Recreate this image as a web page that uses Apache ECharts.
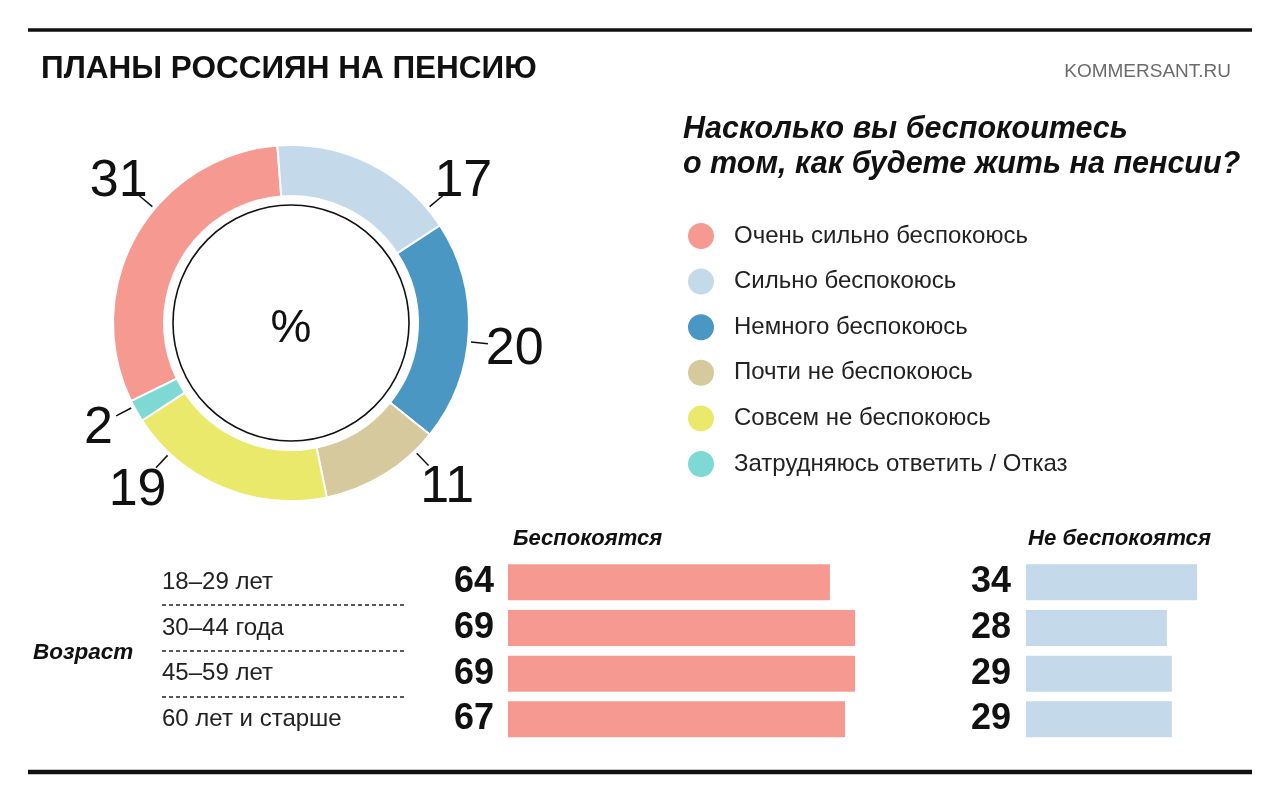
<!DOCTYPE html>
<html><head><meta charset="utf-8">
<script src="https://cdn.jsdelivr.net/npm/echarts@6/dist/echarts.min.js"></script>
<style>html,body{margin:0;padding:0;background:#fff}#c{width:1280px;height:801px}</style>
</head><body><div id="c"></div>
<script>
// ---- data ----
const attitudeNames = ['Очень сильно беспокоюсь','Сильно беспокоюсь','Немного беспокоюсь','Почти не беспокоюсь','Совсем не беспокоюсь','Затрудняюсь ответить / Отказ'];
const attitudeValues = [31, 17, 20, 11, 19, 2];
const ageGroups = ['18–29 лет','30–44 года','45–59 лет','60 лет и старше'];
const worried = [64, 69, 69, 67];
const notWorried = [34, 28, 29, 29];

// ---- style ----
const sliceColors = ['#F69A91','#C4D9EA','#4A97C4','#D6C99E','#EAE96B','#7ED8D4'];
const labelAngles = [140, 40, -6, -46, -133, -152]; // label direction in degrees (style)
const pieCenter = [291, 323];
const narrow = "'Liberation Sans Narrow', 'Liberation Sans', sans-serif";
const sans = "'Liberation Sans', Arial, sans-serif";

const chart = echarts.init(document.getElementById('c'));
const rowTop = 559.5, rowH = 182.7;
const italicBold = (size) => ({fontFamily: narrow, fontWeight: 'bold', fontStyle: 'italic', fontSize: size, color: '#111'});

chart.setOption({
  backgroundColor: '#fff',
  animation: false,
  color: sliceColors,
  title: [
    {text: 'ПЛАНЫ РОССИЯН НА ПЕНСИЮ', left: 36, top: 48, textStyle: {fontFamily: sans, fontWeight: 'bold', fontSize: 31.5, color: '#111'}},
    {text: 'KOMMERSANT.RU', right: 44, top: 57, textStyle: {fontFamily: sans, fontWeight: 'normal', fontSize: 19, color: '#6b6b6b'}},
    {text: 'Насколько вы беспокоитесь\nо том, как будете жить на пенсии?', left: 678, top: 107,
      textStyle: Object.assign(italicBold(30.5), {lineHeight: 35})},
    {text: 'Беспокоятся', left: 508, top: 523, textStyle: italicBold(22)},
    {text: 'Не беспокоятся', left: 1023, top: 523, textStyle: italicBold(22.2)},
    {text: 'Возраст', left: 28, top: 636, textStyle: italicBold(22.5)}
  ],
  legend: {
    orient: 'vertical', left: 686, top: 221, padding: 0, icon: 'circle', itemWidth: 28, itemHeight: 28, itemGap: 15.6,
    selectedMode: false, data: attitudeNames,
    textStyle: {fontFamily: narrow, fontSize: 24, color: '#222', padding: [0, 0, 0, 14]}
  },
  graphic: [
    {type: 'line', shape: {x1: 28, y1: 30, x2: 1252, y2: 30}, style: {stroke: '#111', lineWidth: 3.5}},
    {type: 'line', shape: {x1: 28, y1: 772, x2: 1252, y2: 772}, style: {stroke: '#111', lineWidth: 4.5}},
    {type: 'circle', shape: {cx: pieCenter[0], cy: pieCenter[1], r: 118}, style: {fill: 'none', stroke: '#111', lineWidth: 1.6}},
    {type: 'text', x: pieCenter[0], y: pieCenter[1] + 6, style: {text: '%', fontFamily: narrow, fontSize: 46, fill: '#111', align: 'center', verticalAlign: 'middle'}}
  ],
  grid: [
    {left: 508, top: rowTop, width: 503, height: rowH},
    {left: 1026, top: rowTop, width: 251.5, height: rowH},
    {left: 162, top: rowTop, width: 245, height: rowH}
  ],
  xAxis: [
    {gridIndex: 0, type: 'value', min: 0, max: 100, show: false},
    {gridIndex: 1, type: 'value', min: 0, max: 50, show: false},
    {gridIndex: 2, type: 'value', min: 0, max: 1, show: false}
  ],
  yAxis: [
    {gridIndex: 0, type: 'category', data: ageGroups, inverse: true,
      axisLine: {show: false}, axisTick: {show: false}, splitLine: {show: false},
      axisLabel: {align: 'left', margin: 346, padding: [9, 0, 0, 0], fontFamily: narrow, fontSize: 24, color: '#222'}},
    {gridIndex: 1, type: 'category', data: ageGroups, inverse: true, show: false},
    {gridIndex: 2, type: 'value', min: 0, max: 4, interval: 1, inverse: true,
      axisLine: {show: false}, axisTick: {show: false}, axisLabel: {show: false},
      splitLine: {show: true, showMinLine: false, showMaxLine: false, lineStyle: {color: '#222', width: 1.5, type: [4, 3]}}}
  ],
  series: [
    {
      type: 'pie', center: pieCenter, radius: [127, 178], startAngle: 206, clockwise: true,
      avoidLabelOverlap: false, silent: true,
      itemStyle: {borderColor: '#fff', borderWidth: 2},
      label: {show: true, formatter: '{c}', fontFamily: narrow, fontSize: 52, color: '#111'},
      labelLine: {show: true, length: 12, length2: 0, lineStyle: {color: '#111', width: 1.5}},
      labelLayout: function (p) {
        const a = labelAngles[p.dataIndex] * Math.PI / 180;
        const cx = pieCenter[0], cy = pieCenter[1];
        const pt = r => [cx + r * Math.cos(a), cy - r * Math.sin(a)];
        const lp = pt(p.dataIndex === 5 ? 218 : 225);
        const s = pt(181), e = pt(198);
        return {x: lp[0], y: lp[1] + 3, align: 'center', verticalAlign: 'middle', labelLinePoints: [s, e, e]};
      },
      data: attitudeNames.map((n, i) => ({name: n, value: attitudeValues[i]}))
    },
    {
      type: 'bar', xAxisIndex: 0, yAxisIndex: 0, data: worried, barWidth: 36, silent: true,
      itemStyle: {color: sliceColors[0]},
      label: {show: true, position: 'left', distance: 14, fontFamily: sans, fontWeight: 'bold', fontSize: 36, color: '#111'}
    },
    {
      type: 'bar', xAxisIndex: 1, yAxisIndex: 1, data: notWorried, barWidth: 36, silent: true,
      itemStyle: {color: sliceColors[1]},
      label: {show: true, position: 'left', distance: 15, fontFamily: sans, fontWeight: 'bold', fontSize: 36, color: '#111'}
    }
  ]
});
</script></body></html>
